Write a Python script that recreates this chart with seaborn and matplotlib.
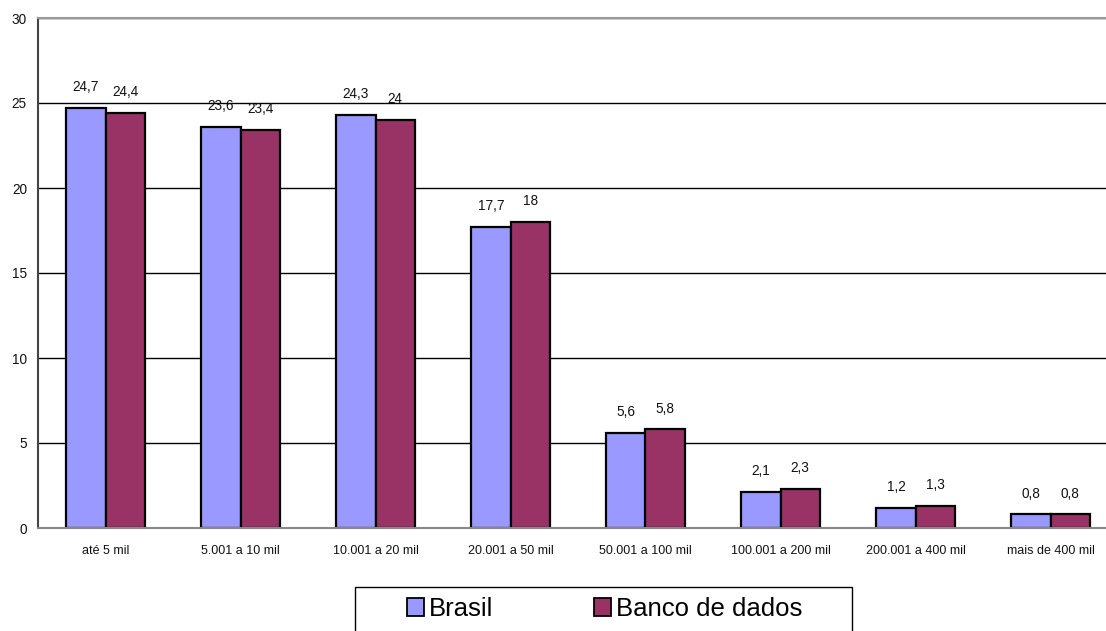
import matplotlib
matplotlib.use("Agg")
import matplotlib.pyplot as plt
from matplotlib.patches import Patch, Rectangle
from matplotlib.ticker import FixedLocator
import numpy as np
import pandas as pd
import seaborn as sns

# Distribution of municipalities by population size (%)
faixas = ["até 5 mil", "5.001 a 10 mil", "10.001 a 20 mil", "20.001 a 50 mil",
          "50.001 a 100 mil", "100.001 a 200 mil", "200.001 a 400 mil", "mais de 400 mil"]
brasil = [24.7, 23.6, 24.3, 17.7, 5.6, 2.1, 1.2, 0.8]
banco_dados = [24.4, 23.4, 24.0, 18.0, 5.8, 2.3, 1.3, 0.8]
series = ["Brasil", "Banco de dados"]
cores = ["#9999FF", "#993366"]
yticks = [0, 5, 10, 15, 20, 25, 30]

df = pd.DataFrame({
    "faixa": faixas * 2,
    "valor": brasil + banco_dados,
    "serie": [series[0]] * len(faixas) + [series[1]] * len(faixas),
})

sns.set_style("white")
plt.rcParams["font.family"] = ["Liberation Sans", "DejaVu Sans"]
plt.rcParams["text.color"] = "black"

W, H = 1106, 631
fig = plt.figure(figsize=(W / 100, H / 100), dpi=100)
ax = fig.add_axes([38 / W, 1 - 528 / H, 1080 / W, 510 / H])

sns.barplot(data=df, x="faixa", y="valor", hue="serie", order=faixas,
            hue_order=series, palette=cores, edgecolor="black", linewidth=1.6,
            width=0.58, saturation=1, legend=False, ax=ax)

def fmt(v):
    s = f"{v:.1f}"
    if s.endswith(".0"):
        s = s[:-2]
    return s.replace(".", ",")

for cont, vals in zip(ax.containers, [brasil, banco_dados]):
    ax.bar_label(cont, labels=[fmt(v) for v in vals], padding=10,
                 fontsize=9.8, color="#111111")

ax.set_ylim(0, 30)
ax.set_xlim(-0.5, len(faixas) - 0.5)
ax.set_yticks(yticks)
ax.yaxis.grid(True, color="black", linewidth=1.0)
ax.set_axisbelow(True)
ax.set_xlabel("")
ax.set_ylabel("")

ax.tick_params(axis="x", which="major", length=0, pad=12, labelsize=9, labelcolor="#111111")
ax.xaxis.set_minor_locator(FixedLocator(np.arange(-0.5, len(faixas), 1.0)))
ax.tick_params(axis="x", which="minor", length=5, width=1, color="#666666", direction="out")
ax.tick_params(axis="y", length=5, width=1, color="#444444", direction="out",
               labelsize=9.8, labelcolor="#111111", pad=3)

ax.spines["left"].set_visible(True)
ax.spines["left"].set_color("#444444")
ax.spines["left"].set_linewidth(1.5)
ax.spines["bottom"].set_visible(True)
ax.spines["bottom"].set_color("#888888")
ax.spines["bottom"].set_linewidth(1.5)
ax.spines["top"].set_visible(True)
ax.spines["top"].set_color("#999999")
ax.spines["top"].set_linewidth(1.5)
ax.spines["right"].set_visible(False)

# Legend box running off the bottom edge of the figure
fig.patches.append(Rectangle((355 / W, -0.05), (852 - 355) / W, 0.05 + (631 - 587) / H,
                             transform=fig.transFigure, facecolor="white",
                             edgecolor="black", linewidth=1.0, zorder=5))

handles = [Patch(facecolor=c, edgecolor="black", linewidth=1.3, label=s)
           for c, s in zip(cores, series)]
leg = fig.legend(handles=handles, loc="center left", ncol=2,
                 bbox_to_anchor=(407 / W, 1 - 609 / H),
                 fontsize=18.5, frameon=False, labelcolor="black",
                 handlelength=0.66, handleheight=0.66, handletextpad=0.2,
                 columnspacing=3.9, borderpad=0, borderaxespad=0)
leg.set_zorder(6)

fig.savefig("out.png", dpi=100)
